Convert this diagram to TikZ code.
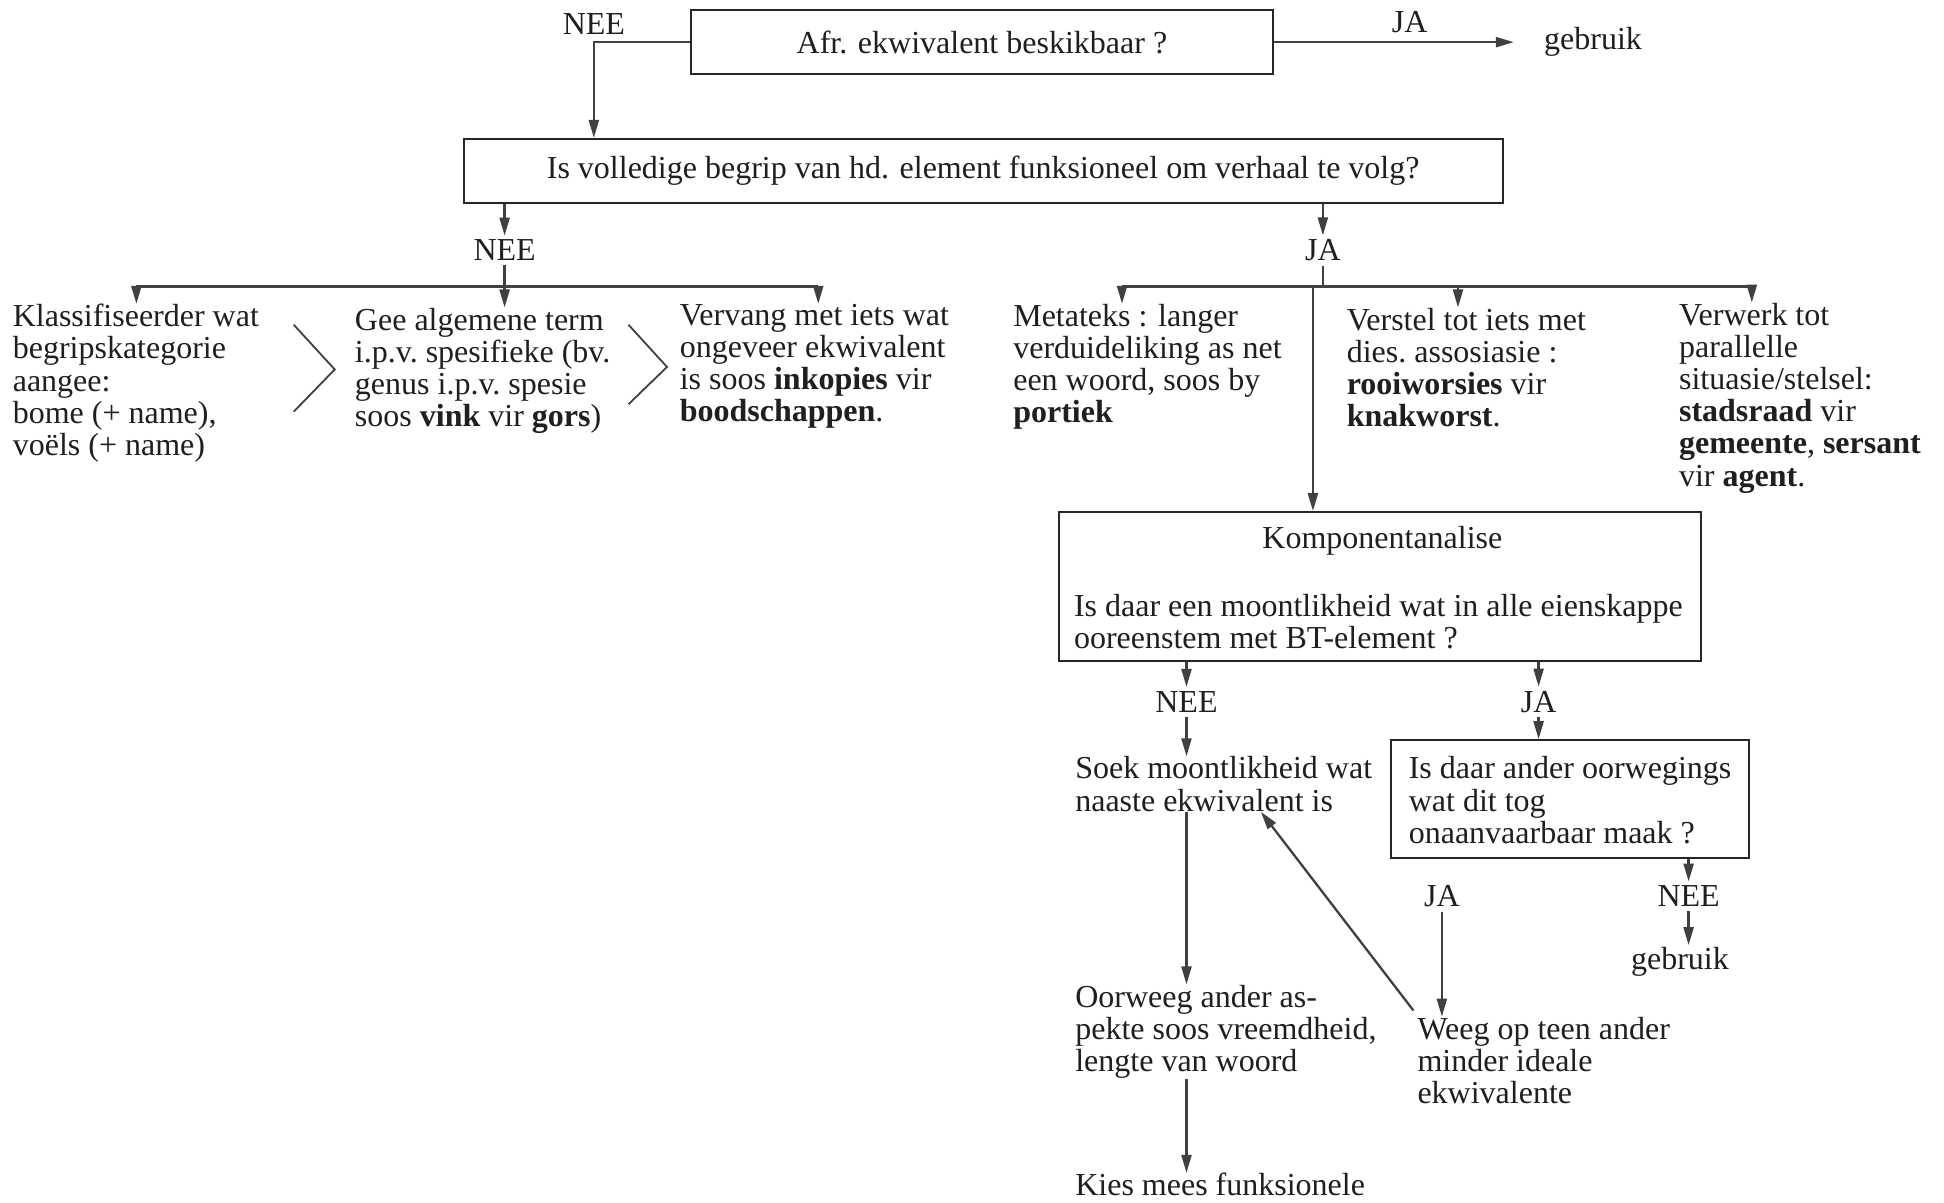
\documentclass[tikz,border=0pt]{standalone}
\usepackage{fontspec}
\setmainfont{Liberation Serif}
\usetikzlibrary{arrows.meta,calc}
\def\U{0.6199pt}
\begin{document}
\begin{tikzpicture}[x=0.6199pt,y=-0.6199pt,
  every node/.style={font=\fontsize{16}{16.1}\selectfont, text=black!88},
  box/.style={draw=black!85, line width=1pt, inner sep=0pt},
  lbl/.style={inner sep=2pt},
  txt/.style={anchor=north west, align=left, inner sep=0pt},
  ln/.style={draw=black!75, line width=1.15pt},
  arr/.style={ln, -{Triangle[length=9pt,width=5pt]}},
  chev/.style={draw=black!75, line width=0.9pt},
]
\useasboundingbox (0,0) rectangle (1568,970);
\fill[white] (0,0) rectangle (1568,970);

% top
\node[box, minimum width=470*\U, minimum height=52*\U] (b1) at (792,34) {Afr. ekwivalent beskikbaar ?};
\node[box, minimum width=838*\U, minimum height=52*\U] (b2) at (793,138) {Is volledige begrip van hd. element funksioneel om verhaal te volg?};
\node[lbl] (nee0) at (479,19) {NEE};
\node[lbl] (ja0) at (1137,18) {JA};
\node[anchor=west, inner xsep=15pt, inner ysep=0pt] (g1) at (1221,34) {gebruik};
\draw[arr] (b1.west) -| (b2.north -| nee0);
\draw[arr] (b1.east) -- (b1.east -| g1.west);

% NEE branch
\node[lbl] (nee1) at (407,202) {NEE};
\draw[arr] (b2.south -| nee1) -- (nee1.north);
\coordinate (bl1) at (110,231);
\coordinate (br1) at (660,231);
\draw[ln] (nee1.south) -- (nee1 |- bl1);
\draw[ln] (bl1) -- (br1);
\node[txt] (t1) at (10,245) {Klassifiseerder wat\\begripskategorie\\aangee:\\bome (+ name),\\voëls (+ name)};
\node[txt] (t2) at (286,248) {Gee algemene term\\i.p.v.\ spesifieke (bv.\\genus i.p.v.\ spesie\\soos \textbf{vink} vir \textbf{gors})};
\node[txt] (t3) at (548,245) {Vervang met iets wat\\ongeveer ekwivalent\\is soos \textbf{inkopies} vir\\\textbf{boodschappen}.};
\draw[arr] (bl1) -- (bl1 |- t1.north);
\draw[arr] (nee1 |- bl1) -- (nee1 |- t2.north);
\draw[arr] (br1) -- (br1 |- t3.north);
\draw[chev] (237,262) -- (270,298) -- (237,332);
\draw[chev] (507,262) -- (538,296) -- (507,326);

% JA branch
\node[lbl] (ja1) at (1067,202) {JA};
\draw[arr] (b2.south -| ja1) -- (ja1.north);
\coordinate (bl2) at (905,231);
\coordinate (bm2) at (1176,231);
\coordinate (br2) at (1413,231);
\coordinate (bk) at (1059,231);
\draw[ln] (ja1.south) -- (ja1 |- bl2);
\draw[ln] (bl2) -- (br2);
\node[txt] (t4) at (817,245) {Metateks : langer\\verduideliking as net\\een woord, soos by\\\textbf{portiek}};
\node[txt] (t5) at (1086,248) {Verstel tot iets met\\dies.\ assosiasie :\\\textbf{rooiworsies} vir\\\textbf{knakworst}.};
\node[txt] (t6) at (1354,244) {Verwerk tot\\parallelle\\situasie/stelsel:\\\textbf{stadsraad} vir\\\textbf{gemeente}, \textbf{sersant}\\vir \textbf{agent}.};
\draw[arr] (bl2) -- (bl2 |- t4.north);
\draw[arr] (bm2) -- (bm2 |- t5.north);
\draw[arr] (br2) -- (br2 |- t6.north);

% Komponentanalise
\node[box, minimum width=518*\U, minimum height=120*\U] (kb) at (1113,473) {};
\draw[arr] (bk) -- (bk |- kb.north);
\node (kt) at (1115,436) {Komponentanalise};
\node[txt] (kq) at (866,479) {Is daar een moontlikheid wat in alle eienskappe\\ooreenstem met BT-element ?};

\node[lbl] (nee2) at (957,566) {NEE};
\node[lbl] (ja2) at (1241,566) {JA};
\draw[arr] (kb.south -| nee2) -- (nee2.north);
\draw[arr] (kb.south -| ja2) -- (ja2.north);
\node[txt] (soek) at (867,610) {Soek moontlikheid wat\\naaste ekwivalent is};
\draw[arr] (nee2.south) -- (nee2 |- soek.north);

\node[box, minimum width=289*\U, minimum height=95*\U] (b3) at (1266.5,644.5) {};
\node[txt] (b3t) at (1136,610) {Is daar ander oorwegings\\wat dit tog\\onaanvaarbaar maak ?};
\draw[arr] (ja2.south) -- (ja2 |- b3.north);

\node[lbl] (nee3) at (1362,723) {NEE};
\node[lbl] (ja3) at (1163,723) {JA};
\draw[arr] (b3.south -| nee3) -- (nee3.north);
\node[inner sep=1pt] (g2) at (1355,776) {gebruik};
\draw[arr] (nee3.south) -- (nee3 |- g2.north);

\node[txt] (weeg) at (1143,820) {Weeg op teen ander\\minder ideale\\ekwivalente};
\draw[arr] (ja3.south) -- (ja3 |- weeg.north);
\draw[arr] ($(weeg.north west)+(-3,-5)$) -- ($(soek.south west)+(150,0)$);

\node[txt] (oor) at (867,794) {Oorweeg ander as-\\pekte soos vreemdheid,\\lengte van woord};
\draw[arr] (nee2 |- soek.south) -- (nee2 |- oor.north);
\node[txt] (kies) at (867,946) {Kies mees funksionele};
\draw[arr] (nee2 |- oor.south) -- (nee2 |- kies.north);
\end{tikzpicture}
\end{document}
